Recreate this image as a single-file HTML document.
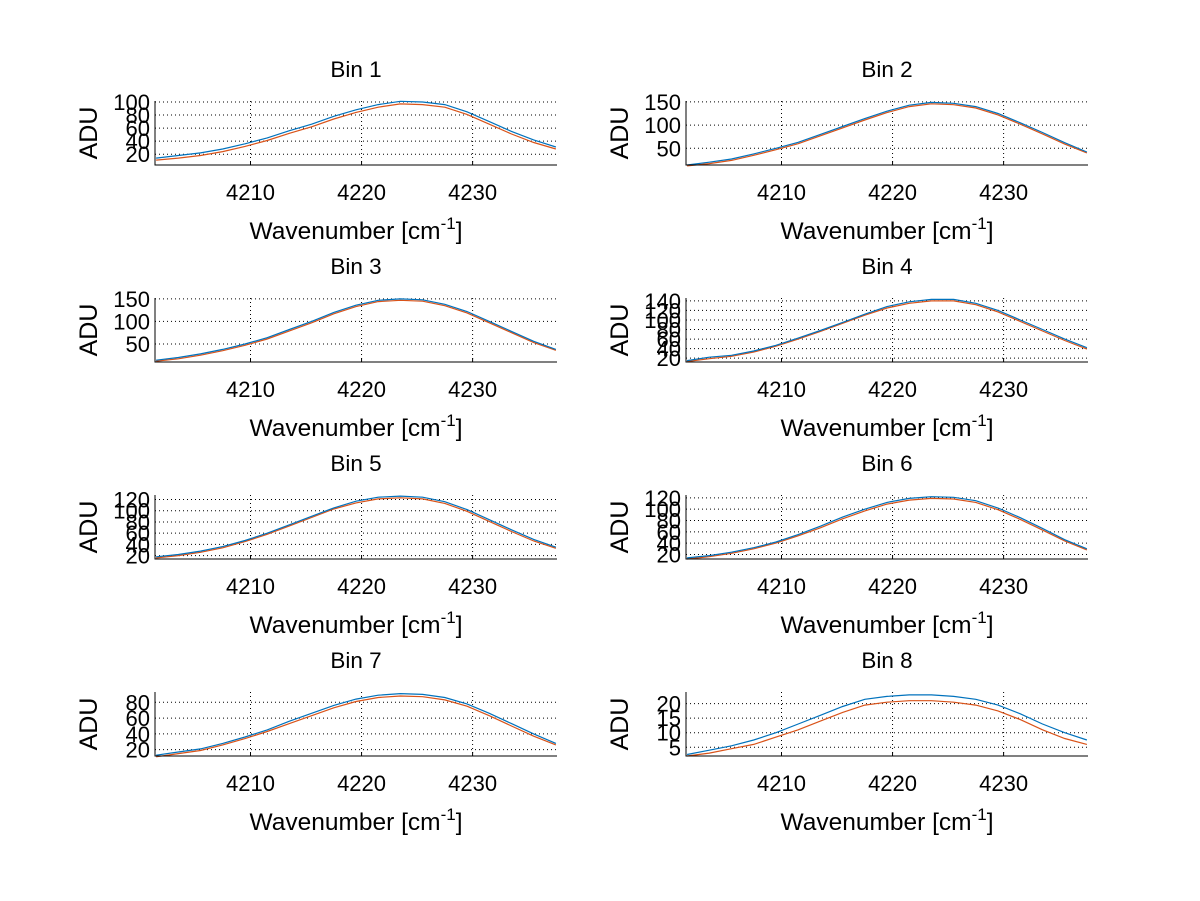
<!DOCTYPE html>
<html><head><meta charset="utf-8">
<style>
html,body{margin:0;padding:0;background:#fff;}
svg{display:block;font-family:"Liberation Sans",Arial,sans-serif;}
</style></head>
<body>
<svg id="fig" width="1200" height="901" viewBox="0 0 1200 901" xmlns="http://www.w3.org/2000/svg"></svg>
<script>
const xValues = [4201.5,4203.5,4205.5,4207.5,4209.5,4211.5,4213.5,4215.5,4217.5,4219.5,4221.5,4223.5,4225.5,4227.5,4229.5,4231.5,4233.5,4235.5,4237.5];
const xTicks = [4210,4220,4230];
const binTitles = ["Bin 1","Bin 2","Bin 3","Bin 4","Bin 5","Bin 6","Bin 7","Bin 8"];
const yTicks1 = [20,40,60,80,100];
const yTicks2 = [50,100,150];
const yTicks3 = [50,100,150];
const yTicks4 = [20,40,60,80,100,120,140];
const yTicks5 = [20,40,60,80,100,120];
const yTicks6 = [20,40,60,80,100,120];
const yTicks7 = [20,40,60,80];
const yTicks8 = [5,10,15,20];
const blue1 = [14,18,22,28,36,45,56,66,78,88,96,101,100,96,85,70,55,42,31];
const orange1 = [11,14,18,24,32,41,52,62,74,84,92,97,96,92,81,66,51,38,28];
const blue2 = [14,20,27,38,50,63,80,97,114,130,143,149,147,140,125,105,84,62,42];
const orange2 = [12,17,24,35,47,60,77,94,111,127,140,146,144,137,122,102,81,59,40];
const blue3 = [14,20,28,38,50,64,82,100,120,136,147,150,148,138,122,100,78,56,38];
const orange3 = [12,17,25,35,47,61,79,97,117,133,144,147,145,135,119,97,75,53,36];
const blue4 = [15,22,26,35,47,62,78,95,112,128,138,143,143,135,120,100,80,60,42];
const orange4 = [13,19,24,33,45,60,76,93,110,125,135,140,140,132,117,97,77,57,39];
const blue5 = [18,22,28,36,47,60,75,90,105,117,124,126,124,116,102,84,66,49,35];
const orange5 = [16,20,26,34,45,58,73,88,103,114,121,123,121,113,99,81,63,46,33];
const blue6 = [14,18,24,32,42,55,70,86,100,112,119,122,121,115,102,85,66,46,30];
const orange6 = [12,16,22,30,40,53,67,83,97,109,116,119,118,112,99,82,63,44,28];
const blue7 = [13,17,21,28,36,45,56,66,76,84,89,91,90,86,78,66,53,40,28];
const orange7 = [11,15,19,26,34,43,53,63,73,81,86,88,87,83,75,63,50,37,26];
const blue8 = [2.5,4,5.5,7.5,10,13,16,19,21.5,22.5,23,23,22.5,21.5,19.5,16.5,13,10,7.5];
const orange8 = [2,3,4.5,6,8.5,11,14,17,19.5,20.5,21,21,20.5,19.5,17.5,14.5,11,8,6];

const blues = [blue1,blue2,blue3,blue4,blue5,blue6,blue7,blue8];
const oranges = [orange1,orange2,orange3,orange4,orange5,orange6,orange7,orange8];
const yTickSets = [yTicks1,yTicks2,yTicks3,yTicks4,yTicks5,yTicks6,yTicks7,yTicks8];
const yLims = [[3.5,101.5],[14,152],[10,152],[12,146],[14,128],[12,125],[12,93],[2,24]];
const xLim = [4201.4,4237.6];

const NS = "http://www.w3.org/2000/svg";
const svg = document.getElementById('fig');
function mk(tag, attrs, parent){
  const e = document.createElementNS(NS, tag);
  for (const k in attrs) e.setAttribute(k, attrs[k]);
  (parent||svg).appendChild(e);
  return e;
}
const colLeft = [155, 686], colW = 402;
const rowTop = [101, 298, 495, 692], rowH = 64;

for (let i=0;i<8;i++){
  const col = i%2, row = Math.floor(i/2);
  const L = colLeft[col], T = rowTop[row], W = colW, H = rowH;
  const g = mk('g', {});
  
  
  const yl = yLims[i];
  const sx = v => L + (v - xLim[0])/(xLim[1]-xLim[0])*W;
  const sy = v => T + H - (v - yl[0])/(yl[1]-yl[0])*H;
  xTicks.forEach(t=>{
    const gl = mk('line',{x1:sx(t),x2:sx(t),y1:T,y2:T+H,stroke:'#000','stroke-width':1,'stroke-dasharray':'1,3'},g);
    
    
    mk('line',{x1:sx(t),x2:sx(t),y1:T+H,y2:T+H-4,stroke:'#000','stroke-width':1},g);
    const tl = mk('text',{x:sx(t),y:T+H+35,'font-size':22,'text-anchor':'middle',fill:'#000'},g);
    tl.textContent = t;
    
    
  });
  yTickSets[i].forEach(t=>{
    const gl = mk('line',{x1:L,x2:L+W,y1:sy(t),y2:sy(t),stroke:'#000','stroke-width':1,'stroke-dasharray':'1,3'},g);
    
    
    const tl = mk('text',{x:L-5,y:sy(t)+8,'font-size':22,'text-anchor':'end',fill:'#000'},g);
    tl.textContent = t;
    
    
  });
  const series = [[oranges[i],'#d95319'],[blues[i],'#0072bd']];
  series.forEach((s,si)=>{
    const pts = s[0].map((v,k)=>sx(xValues[k]).toFixed(1)+','+sy(v).toFixed(1)).join(' ');
    const pl = mk('polyline',{points:pts,fill:'none',stroke:s[1],'stroke-width':1.2},g);
    
    
  });
  const ax = mk('path',{d:`M${L},${T} L${L},${T+H} L${L+W},${T+H}`,fill:'none',stroke:'#000','stroke-width':1},g);
  
  
  const ti = mk('text',{x:L+W/2,y:T-24,'font-size':22.5,'text-anchor':'middle',fill:'#000'},g);
  ti.textContent = binTitles[i];
  
  
  const cyl = T+H/2;
  const yla = mk('text',{x:0,y:0,'font-size':25,'text-anchor':'middle',fill:'#000',transform:`translate(${L-58},${cyl}) rotate(-90)`},g);
  yla.textContent = 'ADU';
  
  
  const xla = mk('text',{x:L+W/2,y:T+H+74,'font-size':24.5,'text-anchor':'middle',fill:'#000'},g);
  
  
  xla.appendChild(document.createTextNode('Wavenumber [cm'));
  const sup = document.createElementNS(NS,'tspan');
  sup.setAttribute('dy','-10'); sup.setAttribute('font-size','17');
  sup.textContent='-1';
  xla.appendChild(sup);
  const rest = document.createElementNS(NS,'tspan');
  rest.setAttribute('dy','10');
  rest.textContent=']';
  xla.appendChild(rest);
}
</script>
</body></html>
